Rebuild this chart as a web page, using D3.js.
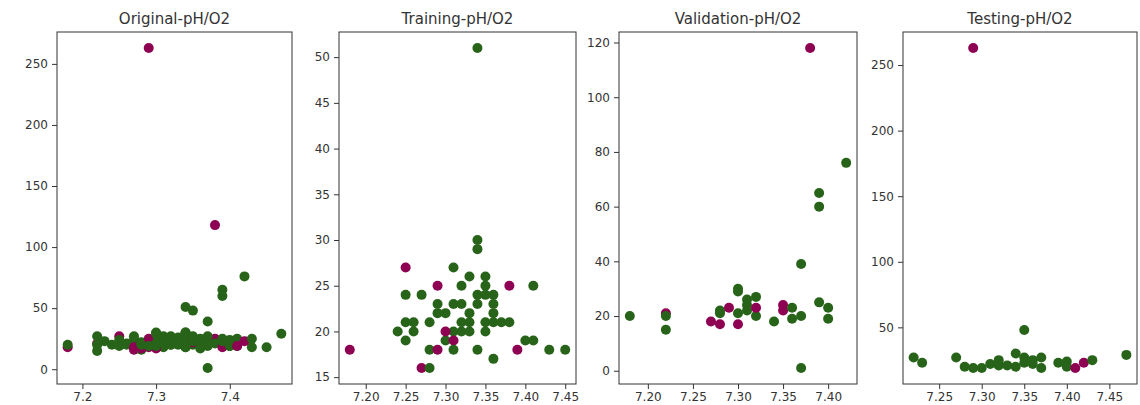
<!DOCTYPE html>
<html>
<meta charset="UTF-8">

<head>
  <script src="https://cdn.jsdelivr.net/npm/d3@7"></script>
  <style>
    body { margin: 0; background: #fff; }
    text { font-family: "DejaVu Sans", sans-serif; fill: #333; }
  </style>
</head>

<body>
  <svg id="chart" width="1140" height="405"></svg>

  <script type="text/javascript">
    // [pH, O2, class]  class 0 = magenta, 1 = green
    const trainPoints = [
      [7.34, 51, 1], [7.34, 30, 1], [7.34, 29, 1],
      [7.25, 27, 0], [7.31, 27, 1],
      [7.33, 26, 1], [7.35, 26, 1],
      [7.29, 25, 0], [7.32, 25, 1], [7.35, 25, 1], [7.38, 25, 0], [7.41, 25, 1],
      [7.25, 24, 1], [7.27, 24, 1], [7.34, 24, 1], [7.35, 24, 1], [7.36, 24, 1],
      [7.29, 23, 1], [7.31, 23, 1], [7.32, 23, 1], [7.34, 23, 1], [7.36, 23, 1],
      [7.29, 22, 1], [7.30, 22, 1], [7.33, 22, 1], [7.36, 22, 1],
      [7.25, 21, 1], [7.26, 21, 1], [7.28, 21, 1], [7.32, 21, 1], [7.33, 21, 1],
      [7.35, 21, 1], [7.36, 21, 1], [7.37, 21, 1], [7.38, 21, 1],
      [7.24, 20, 1], [7.26, 20, 1], [7.31, 20, 1], [7.32, 20, 1], [7.33, 20, 1], [7.35, 20, 1],
      [7.25, 19, 1], [7.30, 19, 1], [7.40, 19, 1], [7.41, 19, 1],
      [7.30, 20, 0], [7.31, 19, 0],
      [7.18, 18, 0], [7.28, 18, 1], [7.29, 18, 0], [7.31, 18, 1], [7.34, 18, 1],
      [7.39, 18, 0], [7.43, 18, 1], [7.45, 18, 1],
      [7.36, 17, 1],
      [7.27, 16, 0], [7.28, 16, 1]
    ]

    const valPoints = [
      [7.18, 20, 1], [7.22, 21, 0], [7.22, 20, 1], [7.22, 15, 1],
      [7.27, 18, 0], [7.28, 17, 0], [7.28, 22, 1], [7.28, 21, 1], [7.29, 23, 0],
      [7.30, 30, 1], [7.30, 29, 1], [7.30, 21, 1], [7.30, 17, 0],
      [7.31, 26, 1], [7.31, 24, 1], [7.31, 22, 1],
      [7.32, 27, 1], [7.32, 20, 1], [7.32, 23, 0], [7.34, 18, 1],
      [7.35, 24, 0], [7.35, 22, 0], [7.36, 23, 1], [7.36, 19, 1],
      [7.37, 39, 1], [7.37, 20, 1], [7.37, 1, 1], [7.38, 118, 0],
      [7.39, 65, 1], [7.39, 60, 1], [7.39, 25, 1], [7.40, 23, 1], [7.40, 19, 1],
      [7.42, 76, 1]
    ]

    const testPoints = [
      [7.22, 27, 1], [7.23, 23, 1], [7.27, 27, 1], [7.28, 20, 1], [7.29, 263, 0],
      [7.29, 19, 1], [7.30, 19, 1], [7.31, 22, 1], [7.32, 25, 1], [7.32, 21, 1],
      [7.33, 21, 1], [7.34, 30, 1], [7.34, 20, 1], [7.35, 48, 1], [7.35, 27, 1],
      [7.35, 23, 1], [7.36, 25, 1], [7.36, 22, 1], [7.37, 27, 1], [7.37, 19, 1],
      [7.39, 23, 1], [7.40, 24, 1], [7.40, 20, 1], [7.41, 19, 0], [7.42, 23, 0],
      [7.43, 25, 1], [7.47, 29, 1]
    ]

    const titles = ["Original-pH/O2", "Training-pH/O2", "Validation-pH/O2", "Testing-pH/O2"]

    const xTicks = [
      [7.2, 7.3, 7.4],
      [7.20, 7.25, 7.30, 7.35, 7.40, 7.45],
      [7.20, 7.25, 7.30, 7.35, 7.40],
      [7.25, 7.30, 7.35, 7.40, 7.45]
    ]
    const xFormats = [".1f", ".2f", ".2f", ".2f"]

    const yTicks = [
      [0, 50, 100, 150, 200, 250],
      [15, 20, 25, 30, 35, 40, 45, 50],
      [0, 20, 40, 60, 80, 100, 120],
      [50, 100, 150, 200, 250]
    ]

    const classColors = ["#8e0152", "#276419"]

    const panelData = [trainPoints.concat(valPoints, testPoints), trainPoints, valPoints, testPoints]

    // panel frames [left, right]
    const frames = [[57, 292], [339, 576], [619, 857], [903, 1137]]
    const plotTop = 32, plotBottom = 384

    const svg = d3.select("#chart")

    // matplotlib style 5% margins
    function padded(ext) {
      const m = (ext[1] - ext[0]) * 0.05
      return [ext[0] - m, ext[1] + m]
    }

    panelData.forEach((pts, i) => {
      const [left, right] = frames[i]

      const x = d3.scaleLinear()
        .domain(padded(d3.extent(pts, d => d[0])))
        .range([left, right])

      const y = d3.scaleLinear()
        .domain(padded(d3.extent(pts, d => d[1])))
        .range([plotBottom, plotTop])

      const g = svg.append("g")

      g.selectAll("circle")
        .data(pts)
        .enter()
        .append("circle")
        .attr("cx", d => x(d[0]))
        .attr("cy", d => y(d[1]))
        .attr("r", 5)
        .style("fill", d => classColors[d[2]])

      g.append("g")
        .attr("transform", `translate(0,${plotBottom})`)
        .call(d3.axisBottom(x)
          .tickValues(xTicks[i])
          .tickFormat(d3.format(xFormats[i]))
          .tickSize(5)
          .tickSizeOuter(0)
          .tickPadding(3))

      g.append("g")
        .attr("transform", `translate(${left},0)`)
        .call(d3.axisLeft(y)
          .tickValues(yTicks[i])
          .tickSize(5)
          .tickSizeOuter(0)
          .tickPadding(4))

      g.selectAll(".domain").remove()
      g.selectAll(".tick line").style("stroke", "#333")
      g.selectAll(".tick text")
        .style("font-size", "12px")
        .style("font-family", "DejaVu Sans, sans-serif")
        .style("fill", "#333")

      g.append("rect")
        .attr("x", left)
        .attr("y", plotTop)
        .attr("width", right - left)
        .attr("height", plotBottom - plotTop)
        .style("fill", "none")
        .style("stroke", "#333")
        .style("stroke-width", "1px")

      g.append("text")
        .attr("x", (left + right) / 2)
        .attr("y", 24)
        .style("text-anchor", "middle")
        .style("font-size", "15px")
        .style("fill", "#333")
        .text(titles[i])
    })
  </script>
</body>

</html>
